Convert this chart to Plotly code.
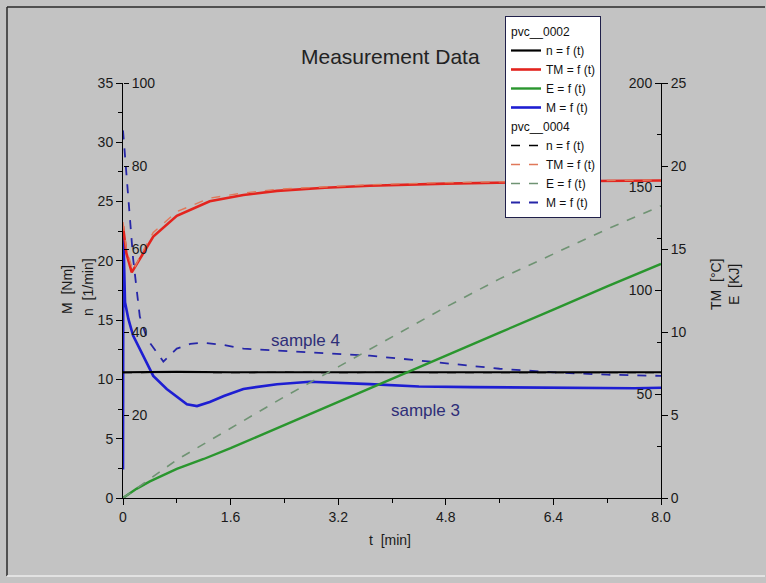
import plotly.graph_objects as go

# ---------------- data ----------------
# sample 3 (pvc__0002), solid lines
t_n3 = [0, 0.8, 1.6, 2.4, 3.2, 4.0, 4.8, 5.6, 6.4, 7.2, 8.0]
n3 = [30.3, 30.4, 30.3, 30.3, 30.4, 30.3, 30.3, 30.3, 30.4, 30.3, 30.3]

t_tm3 = [0, 0.05, 0.13, 0.25, 0.45, 0.8, 1.29, 1.79, 2.29, 3.0, 3.67, 4.8, 6.0, 7.0, 8.0]
tm3 = [131, 118, 108.7, 115, 126, 136, 143, 146, 148, 149.5, 150.5, 151.5, 152.3, 152.8, 153]

t_e3 = [0, 0.2, 0.4, 0.8, 1.2, 1.6, 2.0, 2.4, 3.2, 4.0, 4.8, 5.6, 6.4, 7.2, 8.0]
e3 = [0, 0.55, 1.0, 1.75, 2.35, 3.0, 3.7, 4.4, 5.8, 7.2, 8.6, 9.96, 11.35, 12.75, 14.1]

t_m3 = [0, 0.005, 0.03, 0.08, 0.15, 0.3, 0.45, 0.65, 0.95, 1.1, 1.29, 1.5, 1.79,
        2.29, 2.78, 3.67, 4.4, 5.2, 6.0, 6.8, 7.6, 8.0]
m3 = [2.4, 22.4, 16.5, 15.1, 13.7, 12.0, 10.3, 9.2, 7.9, 7.75, 8.1, 8.6, 9.2,
      9.6, 9.8, 9.6, 9.4, 9.35, 9.3, 9.3, 9.25, 9.3]

# sample 4 (pvc__0004), dashed lines
t_n4 = [0, 0.8, 1.6, 2.4, 3.2, 4.0, 4.8, 5.6, 6.4, 7.2, 8.0]
n4 = [30.2, 30.3, 30.2, 30.3, 30.2, 30.3, 30.2, 30.2, 30.3, 30.2, 30.2]

t_tm4 = [0, 0.05, 0.15, 0.28, 0.45, 0.8, 1.29, 1.79, 2.29, 3.0, 3.67, 4.8, 6.0, 7.0, 8.0]
tm4 = [133, 120, 109.5, 118, 128, 138, 144.5, 147, 148.8, 150, 151, 152, 152.6, 153, 153.2]

t_e4 = [0, 0.3, 0.8, 1.6, 2.4, 3.2, 4.0, 4.8, 5.6, 6.4, 7.2, 8.0]
e4 = [0, 0.85, 2.3, 4.2, 6.1, 7.9, 9.7, 11.5, 13.2, 14.7, 16.2, 17.6]

t_m4 = [0, 0.02, 0.06, 0.15, 0.25, 0.36, 0.5, 0.6, 0.8, 1.0, 1.19, 1.5, 1.79,
        2.78, 3.67, 4.4, 5.6, 6.4, 7.2, 8.0]
m4 = [31.0, 29.5, 26.6, 20.2, 15.3, 13.4, 12.3, 11.5, 12.6, 13.0, 13.1, 12.9, 12.6,
      12.3, 12.0, 11.6, 10.9, 10.6, 10.4, 10.3]

# axis ticks
t_tickvals = [0, 1.6, 3.2, 4.8, 6.4, 8.0]
t_ticktext = ["0", "1.6", "3.2", "4.8", "6.4", "8.0"]
t_minor = [0.8, 2.4, 4.0, 5.6, 7.2]
m_ticks = [0, 5, 10, 15, 20, 25, 30, 35]
m_minor = [2.5, 7.5, 12.5, 17.5, 22.5, 27.5, 32.5]
n_ticks = [20, 40, 60, 80, 100]
tm_ticks = [50, 100, 150, 200]
tm_minor = [25, 75, 125, 175]
e_ticks = [0, 5, 10, 15, 20, 25]

group3 = "pvc__0002"
group4 = "pvc__0004"

# ---------------- layout geometry ----------------
W, H = 766, 583
ML, MR, MT, MB = 123, 105, 83, 85
PW, PH = W - ML - MR, H - MT - MB


def px(x):
    return (x - ML) / PW


def py(y):
    return (H - MB - y) / PH


FONT = "Arial, Liberation Sans, sans-serif"
BG = "#c3c3c3"

RED = "#e3241e"
RED_D = "#e0785a"
GREEN = "#2a962e"
GREEN_D = "#6f9373"
BLUE = "#1e1ed2"
BLUE_D = "#2626a8"

fig = go.Figure()


def add(t, v, name, color, dash, width, yaxis, group):
    fig.add_trace(go.Scatter(
        x=t, y=v, name=name, mode="lines", yaxis=yaxis,
        line=dict(color=color, dash=dash, width=width),
        legendgroup=group,
        legendgrouptitle=dict(text=group, font=dict(size=12, color="#111", family=FONT)),
    ))


add(t_n3, n3, "n = f (t)", "#000000", "solid", 2.2, "y2", group3)
add(t_tm3, tm3, "TM = f (t)", RED, "solid", 2.6, "y3", group3)
add(t_e3, e3, "E = f (t)", GREEN, "solid", 2.4, "y4", group3)
add(t_m3, m3, "M = f (t)", BLUE, "solid", 2.6, "y", group3)

add(t_n4, n4, "n = f (t)", "#000000", "dash", 1.3, "y2", group4)
add(t_tm4, tm4, "TM = f (t)", RED_D, "dash", 1.4, "y3", group4)
add(t_e4, e4, "E = f (t)", GREEN_D, "dash", 1.6, "y4", group4)
add(t_m4, m4, "M = f (t)", BLUE_D, "dash", 1.8, "y", group4)

tickfont = dict(family=FONT, size=14, color="#1a1a1a")
common = dict(showgrid=False, zeroline=False, tickfont=tickfont, fixedrange=True)

fig.update_layout(
    width=W, height=H, autosize=False,
    margin=dict(l=ML, r=MR, t=MT, b=MB, pad=0),
    paper_bgcolor=BG, plot_bgcolor=BG,
    font=dict(family=FONT, color="#1a1a1a"),
    showlegend=True,
    legend=dict(
        x=px(505), y=py(16), xanchor="left", yanchor="top",
        bgcolor="white", bordercolor="#20204a", borderwidth=1,
        font=dict(family=FONT, size=12, color="#111"),
        tracegroupgap=0, itemwidth=30, traceorder="grouped",
    ),
    xaxis=dict(
        domain=[0, 1],
        range=[0, 8], tickmode="array", tickvals=t_tickvals, ticktext=t_ticktext,
        showline=True, linecolor="black", linewidth=1,
        ticks="outside", ticklen=6, tickcolor="black",
        minor=dict(tickmode="array", tickvals=t_minor, ticks="outside", ticklen=4, tickcolor="black"),
        **common,
    ),
    # M [Nm] : labels left of the left axis line
    yaxis=dict(
        range=[0, 35], tickmode="array", tickvals=m_ticks, side="left", anchor="x",
        showline=True, linecolor="black", linewidth=1,
        ticks="outside", ticklen=6, tickcolor="black",
        minor=dict(tickmode="array", tickvals=m_minor, ticks="outside", ticklen=4, tickcolor="black"),
        **common,
    ),
    # n [1/min] : labels right of the left axis line
    yaxis2=dict(
        range=[0, 100], tickmode="array", tickvals=n_ticks, side="right",
        anchor="free", position=0, overlaying="y", showline=False,
        ticks="outside", ticklen=5, tickcolor="black",
        **common,
    ),
    # TM [°C] : labels left of the right axis line
    yaxis3=dict(
        range=[0, 200], tickmode="array", tickvals=tm_ticks, side="left",
        anchor="free", position=1, overlaying="y", showline=False,
        ticks="outside", ticklen=6, tickcolor="black",
        minor=dict(tickmode="array", tickvals=tm_minor, ticks="outside", ticklen=4, tickcolor="black"),
        **common,
    ),
    # E [KJ] : labels right of the right axis line
    yaxis4=dict(
        range=[0, 25], tickmode="array", tickvals=e_ticks, side="right", anchor="x",
        overlaying="y", showline=True, linecolor="black", linewidth=1,
        ticks="outside", ticklen=6, tickcolor="black",
        **common,
    ),
)

# title and axis titles
ann_font = dict(family=FONT, size=14, color="#1a1a1a")
annotations = [
    dict(text="Measurement Data", x=px(390), y=py(56), font=dict(family=FONT, size=21, color="#222")),
    dict(text="t  [min]", x=px(390), y=py(540), font=ann_font),
    dict(text="M  [Nm]", x=px(67), y=py(290), textangle=-90, font=ann_font),
    dict(text="n  [1/min]", x=px(88), y=py(287), textangle=-90, font=ann_font),
    dict(text="TM  [°C]", x=px(716), y=py(285), textangle=-90, font=ann_font),
    dict(text="E  [KJ]", x=px(734), y=py(285), textangle=-90, font=ann_font),
    dict(text="sample 4", x=px(305), y=py(340), font=dict(family=FONT, size=17, color="#2e2e78")),
    dict(text="sample 3", x=px(425), y=py(410), font=dict(family=FONT, size=17, color="#2e2e78")),
]
for a in annotations:
    fig.add_annotation(xref="paper", yref="paper", showarrow=False,
                       xanchor="center", yanchor="middle", **a)

# sunken frame around the whole picture
frame = [
    (7, 7, 765, 7, "#2a2a2a"),
    (7, 7, 7, 576, "#2a2a2a"),
    (7, 576, 765, 576, "#ececec"),
]
for x0, y0, x1, y1, c in frame:
    fig.add_shape(type="line", xref="paper", yref="paper",
                  x0=px(x0), y0=py(y0), x1=px(x1), y1=py(y1),
                  line=dict(color=c, width=1.5), layer="above")

# remove the default page margin so the figure fills the window exactly
fig.write_html("out.html", config={"displayModeBar": False},
               post_script="document.body.style.margin='0';")
